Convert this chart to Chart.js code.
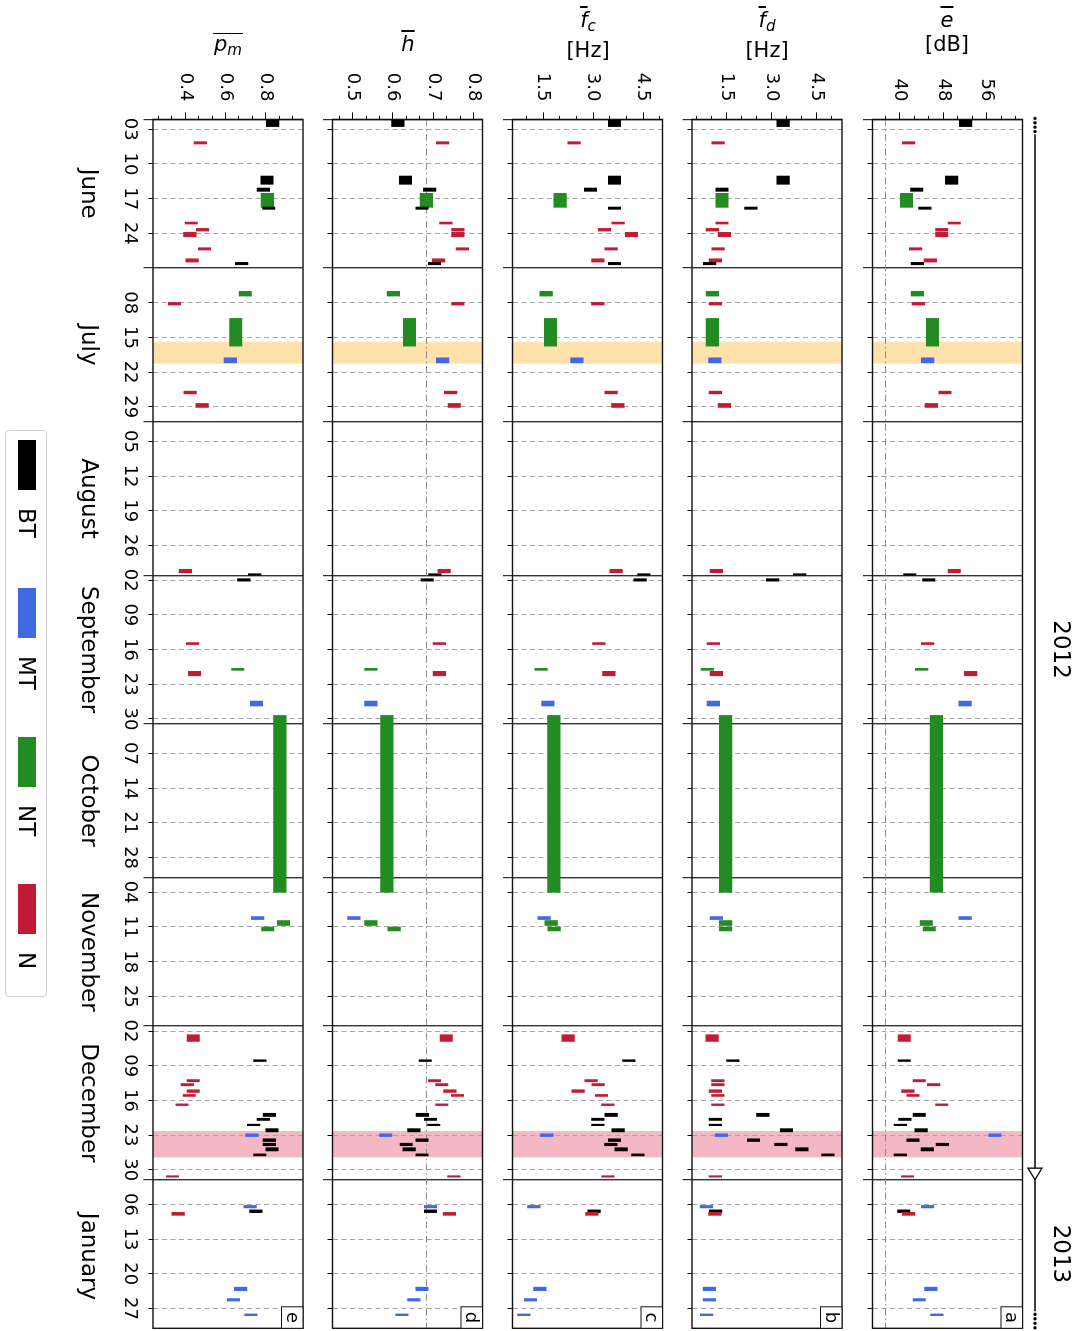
<!DOCTYPE html>
<html>
<head>
<meta charset="utf-8">
<script src="https://cdn.jsdelivr.net/npm/chart.js@4.4.1/dist/chart.umd.min.js"></script>
<style>
  html, body { margin: 0; padding: 0; background: #fff; width: 1080px; height: 1331px; overflow: hidden;
               font-family: 'DejaVu Sans', sans-serif; color: #000; }
  /* the figure is laid out landscape and turned a quarter turn clockwise */
  #fig { position: absolute; left: 0; top: 0; width: 1331px; height: 1080px;
         transform-origin: 0 0; transform: translate(1080px, 0) rotate(90deg); }
  #fig canvas { position: absolute; left: 0; top: 0; }
  .legend { position: absolute; left: 430px; top: 1033px; width: 565px; height: 40px;
            border: 1px solid #cfcfcf; border-radius: 4px; background: #fff; }
  .patch { position: absolute; top: 1044px; width: 50px; height: 18px; }
  .ltext { position: absolute; top: 1039px; font-size: 23px; line-height: 28px; }
  .title { position: absolute; top: 8px; transform: translateX(-50%); text-align: center;
           font-size: 21px; line-height: 24px; white-space: nowrap; }
  .ov { text-decoration: overline; }
  .bar { display: inline-block; border-top: 1.5px solid #000; line-height: 20px; padding: 0 1px; }
  sub { font-size: 0.72em; vertical-align: -0.25em; }
</style>
</head>
<body>
<div id="fig"></div>

<div class="title" style="left:947px"><i class="ov">e</i><br>[dB]</div>
<div class="title" style="left:767px"><i class="ov">f</i><sub><i>d</i></sub><br>[Hz]</div>
<div class="title" style="left:588px"><i class="ov">f</i><sub><i>c</i></sub><br>[Hz]</div>
<div class="title" style="left:408px">&nbsp;<br><i class="ov">h</i></div>
<div class="title" style="left:228px">&nbsp;<br><span class="bar"><i>p</i><sub><i>m</i></sub></span></div>

<script>
// ---- classes ----
const classNames  = ['BT', 'MT', 'NT', 'N'];
const classColors = ['#000000', '#4169e1', '#228b22', '#c21b35'];

// ---- events (days counted from 1 June 2012) ----
const eventClass = [
  'BT','N','BT','BT','NT','BT','N','N','N','N','N','BT','NT','N','NT','MT','N','N',
  'N','BT','BT','N','NT','N','MT','NT','MT','NT','NT',
  'N','BT','N','N','N','N','N','BT','BT','BT','BT','MT','BT','BT','BT','BT','N','MT','BT','N','MT','MT','MT'
];
const eventStart = [
  0.1, 4.5, 11.43, 13.85, 14.92, 17.69, 20.72, 22.0, 22.8, 25.9, 28.13, 28.86, 34.7, 36.94, 40.17, 48.12, 54.85, 57.33,
  90.8, 91.7, 92.7, 105.6, 110.8, 111.4, 117.4, 120.3, 160.9, 161.7, 163.0,
  184.75, 189.8, 193.8, 194.6, 195.85, 196.8, 198.7, 200.6, 201.6, 202.8, 203.7, 204.75, 205.75, 206.65, 207.55, 208.8,
  213.2, 219.2, 220.1, 220.6, 235.7, 238.0, 241.1
];
const eventEnd = [
  1.45, 4.97, 13.1, 14.52, 17.75, 18.15, 21.12, 22.54, 23.69, 26.37, 28.8, 29.34, 35.66, 37.48, 45.76, 49.13, 55.4, 58.14,
  91.5, 92.0, 93.2, 106.0, 111.2, 112.3, 118.4, 156.0, 161.5, 162.7, 163.8,
  186.1, 190.15, 194.25, 195.05, 196.4, 197.2, 199.05, 201.25, 202.05, 203.1, 204.35, 205.3, 206.3, 207.15, 208.2, 209.2,
  213.5, 219.7, 220.65, 221.2, 236.4, 238.5, 241.45
];

// ---- per-event means ----
const eMean = [
  52.1, 41.6, 49.5, 43.1, 41.2, 44.6, 50.0, 47.7, 47.7, 42.9, 45.6, 43.2, 43.2, 43.4, 46.0, 45.1, 48.3, 45.8,
  50.0, 41.8, 45.3, 45.1, 44.0, 53.0, 52.0, 46.7, 52.0, 44.85, 45.4,
  40.8, 40.8, 43.55, 46.2, 41.45, 42.4, 47.7, 43.55, 40.9, 40.07, 43.9, 57.5, 42.4, 47.8, 45.05, 40.07, 41.4, 45.1, 40.7, 41.6, 45.7, 43.55, 46.8
];
const fdMean = [
  3.38, 1.21, 3.38, 1.34, 1.34, 2.30, 1.34, 1.02, 1.42, 1.21, 1.12, 0.93, 1.02, 1.12, 1.02, 1.10, 1.12, 1.42,
  1.15, 3.93, 3.03, 1.05, 0.85, 1.15, 1.05, 1.46, 1.15, 1.46, 1.46,
  1.01, 1.70, 1.20, 1.20, 1.12, 1.20, 1.20, 2.70, 1.12, 1.12, 3.49, 1.32, 2.39, 3.30, 4.0, 4.87, 1.12, 0.82, 1.13, 1.10, 0.92, 0.92, 0.83
];
const fcMean = [
  3.64, 2.43, 3.64, 2.92, 2.01, 3.64, 3.75, 3.34, 4.15, 3.54, 3.14, 3.64, 1.59, 3.14, 1.72, 2.51, 3.54, 3.74,
  3.69, 4.52, 4.41, 3.17, 1.44, 3.47, 1.64, 1.82, 1.53, 1.74, 1.83,
  2.25, 4.07, 2.94, 3.15, 2.55, 3.25, 3.44, 3.54, 3.14, 3.14, 3.75, 1.61, 3.64, 3.53, 3.84, 4.34, 3.44, 1.22, 3.03, 2.96, 1.40, 1.12, 0.92
];
const hMean = [
  0.612, 0.723, 0.631, 0.691, 0.683, 0.672, 0.731, 0.761, 0.761, 0.772, 0.713, 0.703, 0.601, 0.761, 0.641, 0.723, 0.743, 0.752,
  0.727, 0.704, 0.685, 0.715, 0.545, 0.715, 0.545, 0.585, 0.503, 0.545, 0.603,
  0.732, 0.680, 0.703, 0.721, 0.741, 0.760, 0.721, 0.673, 0.693, 0.701, 0.652, 0.582, 0.672, 0.633, 0.640, 0.672, 0.751, 0.693, 0.693, 0.740, 0.672, 0.652, 0.622
];
const pmMean = [
  0.834, 0.475, 0.806, 0.788, 0.808, 0.815, 0.430, 0.486, 0.423, 0.496, 0.434, 0.680, 0.698, 0.347, 0.651, 0.624, 0.424, 0.484,
  0.401, 0.745, 0.691, 0.437, 0.661, 0.446, 0.754, 0.870, 0.760, 0.888, 0.810,
  0.440, 0.771, 0.440, 0.411, 0.440, 0.420, 0.384, 0.818, 0.788, 0.740, 0.831, 0.731, 0.818, 0.818, 0.831, 0.770, 0.337, 0.722, 0.751, 0.365, 0.675, 0.640, 0.726
];

// ---- reference levels ----
const eReference = 37.35;
const hReference = 0.683;

// ---- labelled value ticks ----
const eTicks  = [40, 48, 56];
const fdTicks = [1.5, 3.0, 4.5];
const fcTicks = [1.5, 3.0, 4.5];
const hTicks  = [0.5, 0.6, 0.7, 0.8];
const pmTicks = [0.4, 0.6, 0.8];

// ---- calendar ----
const monthNames = ['June', 'July', 'August', 'September', 'October', 'November', 'December', 'January'];
const monthStart = [0, 30, 61, 92, 122, 153, 183, 214, 245];
const years = ['2012', '2013'];
const yearStart = [0, 214];
const shadeStart = [44.9, 204.2];
const shadeEnd   = [49.3, 209.5];
const shadeColor = ['rgba(255,165,0,0.33)', 'rgba(220,20,60,0.30)'];

const DAY_MS = 864e5, T0 = Date.UTC(2012, 5, 1), T_END = 244;
const PLOT_LEFT = 119.4, PLOT_RIGHT = 1328.3, PANEL_H = 150, W = 1331, H = 1080;

Chart.defaults.font.family = "'DejaVu Sans', sans-serif";
Chart.defaults.color = '#000';

// weekly (Sunday) ticks plus month boundaries
const xTicks = [];
for (let d = 0; d <= T_END; d++) {
  const isMonth = monthStart.includes(d);
  const isSunday = new Date(T0 + d * DAY_MS).getUTCDay() === 0;
  if (isMonth || isSunday) xTicks.push({ value: d, month: isMonth });
}
const dayLabel = d => String(new Date(T0 + d * DAY_MS).getUTCDate()).padStart(2, '0');
const monthMid = monthNames.map((m, i) => (monthStart[i] + monthStart[i + 1]) / 2);

function valueTicks(labelled, range) {
  const step = (labelled[1] - labelled[0]) / 3;
  const out = [];
  const k0 = Math.ceil((range[0] - labelled[0]) / step - 1e-6);
  for (let k = k0; labelled[0] + k * step <= range[1] + 1e-9; k++) {
    out.push({ value: labelled[0] + k * step, lab: Math.abs(k % 3) === 0 });
  }
  return out;
}

const panels = [
  { id: 'a', values: eMean,  labelled: eTicks,  range: [34.95, 62.56], digits: 0, ref: eReference, top: 57.5 },
  { id: 'b', values: fdMean, labelled: fdTicks, range: [0.34, 5.34],   digits: 1, top: 238 },
  { id: 'c', values: fcMean, labelled: fcTicks, range: [0.58, 5.08],   digits: 1, top: 417.5 },
  { id: 'd', values: hMean,  labelled: hTicks,  range: [0.45, 0.822],  digits: 1, ref: hReference, top: 597.5 },
  { id: 'e', values: pmMean, labelled: pmTicks, range: [0.24, 0.985],  digits: 1, top: 777, dates: true }
];

// shaded periods under the grid, frame and panel letter on top
const panelDecor = {
  id: 'panelDecor',
  beforeDraw(chart) {
    const { ctx, chartArea: a, scales: { x } } = chart;
    ctx.save();
    shadeStart.forEach((s, i) => {
      const x0 = x.getPixelForValue(s), x1 = x.getPixelForValue(shadeEnd[i]);
      ctx.fillStyle = shadeColor[i];
      ctx.fillRect(x0, a.top, x1 - x0, a.bottom - a.top);
    });
    ctx.restore();
  },
  afterDraw(chart, args, opts) {
    const { ctx, chartArea: a } = chart;
    ctx.save();
    ctx.strokeStyle = '#111';
    ctx.lineWidth = 1.4;
    ctx.strokeRect(a.left, a.top, a.right - a.left, a.bottom - a.top);
    const s = 21.5;
    ctx.lineWidth = 1;
    ctx.fillStyle = '#fff';
    ctx.fillRect(a.right - s, a.top, s, s);
    ctx.strokeRect(a.right - s, a.top, s, s);
    ctx.fillStyle = '#000';
    ctx.font = "18px 'DejaVu Sans'";
    ctx.textAlign = 'center';
    ctx.textBaseline = 'middle';
    ctx.fillText(opts.letter, a.right - s / 2, a.top + s / 2 + 1);
    ctx.restore();
  }
};

// year bar above the top panel
const yearLine = {
  id: 'yearLine',
  afterDraw(chart) {
    const { ctx, chartArea: a, scales: { x } } = chart;
    const y = 45;
    ctx.save();
    ctx.strokeStyle = '#000';
    ctx.fillStyle = '#000';
    ctx.lineWidth = 1.3;
    [-1, 3.4, 7.8, 12.2].forEach(dx => { ctx.beginPath(); ctx.arc(a.left + dx, y, 1.7, 0, 2 * Math.PI); ctx.fill(); });
    [-14, -9.5, -5, -0.5].forEach(dx => { ctx.beginPath(); ctx.arc(a.right + dx, y, 1.7, 0, 2 * Math.PI); ctx.fill(); });
    ctx.beginPath();
    ctx.moveTo(a.left + 15, y);
    ctx.lineTo(a.right - 17, y);
    ctx.stroke();
    const xb = x.getPixelForValue(yearStart[1]);
    ctx.beginPath();
    ctx.moveTo(xb - 11.5, y - 7);
    ctx.lineTo(xb, y);
    ctx.lineTo(xb - 11.5, y + 7);
    ctx.closePath();
    ctx.fillStyle = '#fff';
    ctx.fill();
    ctx.stroke();
    ctx.fillStyle = '#000';
    ctx.font = "23px 'DejaVu Sans'";
    ctx.textAlign = 'center';
    ctx.textBaseline = 'middle';
    ctx.fillText(years[0], (x.getPixelForValue(yearStart[0]) + xb) / 2, 20);
    ctx.fillText(years[1], (xb + a.right) / 2, 20);
    ctx.restore();
  }
};

const fig = document.getElementById('fig');

panels.forEach((p, idx) => {
  const canvas = document.createElement('canvas');
  canvas.width = W;
  canvas.height = H;
  fig.appendChild(canvas);

  const xH = p.dates ? 40 : 12;
  const xmH = p.dates ? 50 : 0;

  const scales = {
    x: {
      type: 'linear', position: 'bottom', min: 0, max: T_END, weight: 0, offset: false,
      afterFit: s => { s.height = xH; },
      afterBuildTicks: s => { s.ticks = xTicks.map(t => ({ value: t.value, month: t.month })); },
      ticks: {
        autoSkip: false, maxRotation: 0, minRotation: 0, padding: 3, font: { size: 18 },
        callback: (v, i, t) => (p.dates && !t[i].month) ? dayLabel(v) : ''
      },
      grid: {
        drawOnChartArea: true, drawTicks: true, tickLength: 9.5, offset: false,
        color: c => (c.tick && c.tick.month) ? '#333' : '#a6a6a6',
        lineWidth: c => (c.tick && c.tick.month) ? 1.4 : 1,
        tickColor: '#000', tickWidth: 1,
        tickBorderDash: c => (c.tick && c.tick.month) ? [] : [4.5, 30]
      },
      border: { display: false, dash: c => (c.tick && c.tick.month) ? [] : [5, 3.5] }
    },
    y: {
      type: 'linear', position: 'left', min: p.range[0], max: p.range[1], offset: false,
      afterFit: s => { s.width = PLOT_LEFT; },
      afterBuildTicks: s => { s.ticks = valueTicks(p.labelled, p.range); },
      ticks: {
        autoSkip: false, padding: 11, font: { size: 18 },
        callback: (v, i, t) => t[i].lab ? v.toFixed(p.digits) : ''
      },
      grid: {
        drawOnChartArea: false, drawTicks: true, tickLength: 7, offset: false,
        tickColor: '#000', tickWidth: 1,
        tickBorderDash: c => (c.tick && c.tick.lab) ? [] : [3.5, 3.5],
        tickBorderDashOffset: c => (c.tick && c.tick.lab) ? 0 : 3.5
      },
      border: { display: false }
    }
  };
  if (p.dates) {
    scales.xm = {
      type: 'linear', position: 'bottom', min: 0, max: T_END, weight: 1, offset: false,
      afterFit: s => { s.height = xmH; },
      afterBuildTicks: s => { s.ticks = monthMid.map(v => ({ value: v })); },
      ticks: { autoSkip: false, maxRotation: 0, minRotation: 0, padding: 11, font: { size: 23 },
               callback: (v, i) => monthNames[i] },
      grid: { display: false, drawTicks: false },
      border: { display: false }
    };
  }

  const datasets = [{
    type: 'bar',
    data: eventStart.map((s, i) => ({ x: [s, eventEnd[i]], y: p.values[i] })),
    backgroundColor: eventClass.map(c => classColors[classNames.indexOf(c)]),
    borderWidth: 0,
    barThickness: 12.5,
    order: 1
  }];
  if (p.ref !== undefined) {
    datasets.push({
      type: 'line', indexAxis: 'x',
      data: [{ x: 0, y: p.ref }, { x: T_END, y: p.ref }],
      borderColor: '#8c8c8c', borderWidth: 1, borderDash: [7, 3, 1.5, 3],
      pointRadius: 0, order: 2
    });
  }

  const bottomPad = H - (p.top + PANEL_H) - xH - xmH;

  new Chart(canvas, {
    type: 'bar',
    data: { datasets },
    options: {
      responsive: false, animation: false, indexAxis: 'y',
      layout: { autoPadding: false, padding: { left: 0, right: W - PLOT_RIGHT, top: p.top, bottom: bottomPad } },
      plugins: { legend: { display: false }, tooltip: { enabled: false }, panelDecor: { letter: p.id } },
      scales
    },
    plugins: idx === 0 ? [panelDecor, yearLine] : [panelDecor]
  });
});

// legend
const legendBox = document.createElement('div');
legendBox.className = 'legend';
fig.appendChild(legendBox);
const legendX = [440, 588, 737, 884];
classNames.forEach((name, i) => {
  const patch = document.createElement('div');
  patch.className = 'patch';
  patch.style.left = legendX[i] + 'px';
  patch.style.background = classColors[i];
  fig.appendChild(patch);
  const txt = document.createElement('div');
  txt.className = 'ltext';
  txt.style.left = (legendX[i] + 68) + 'px';
  txt.textContent = name;
  fig.appendChild(txt);
});
</script>
</body>
</html>
